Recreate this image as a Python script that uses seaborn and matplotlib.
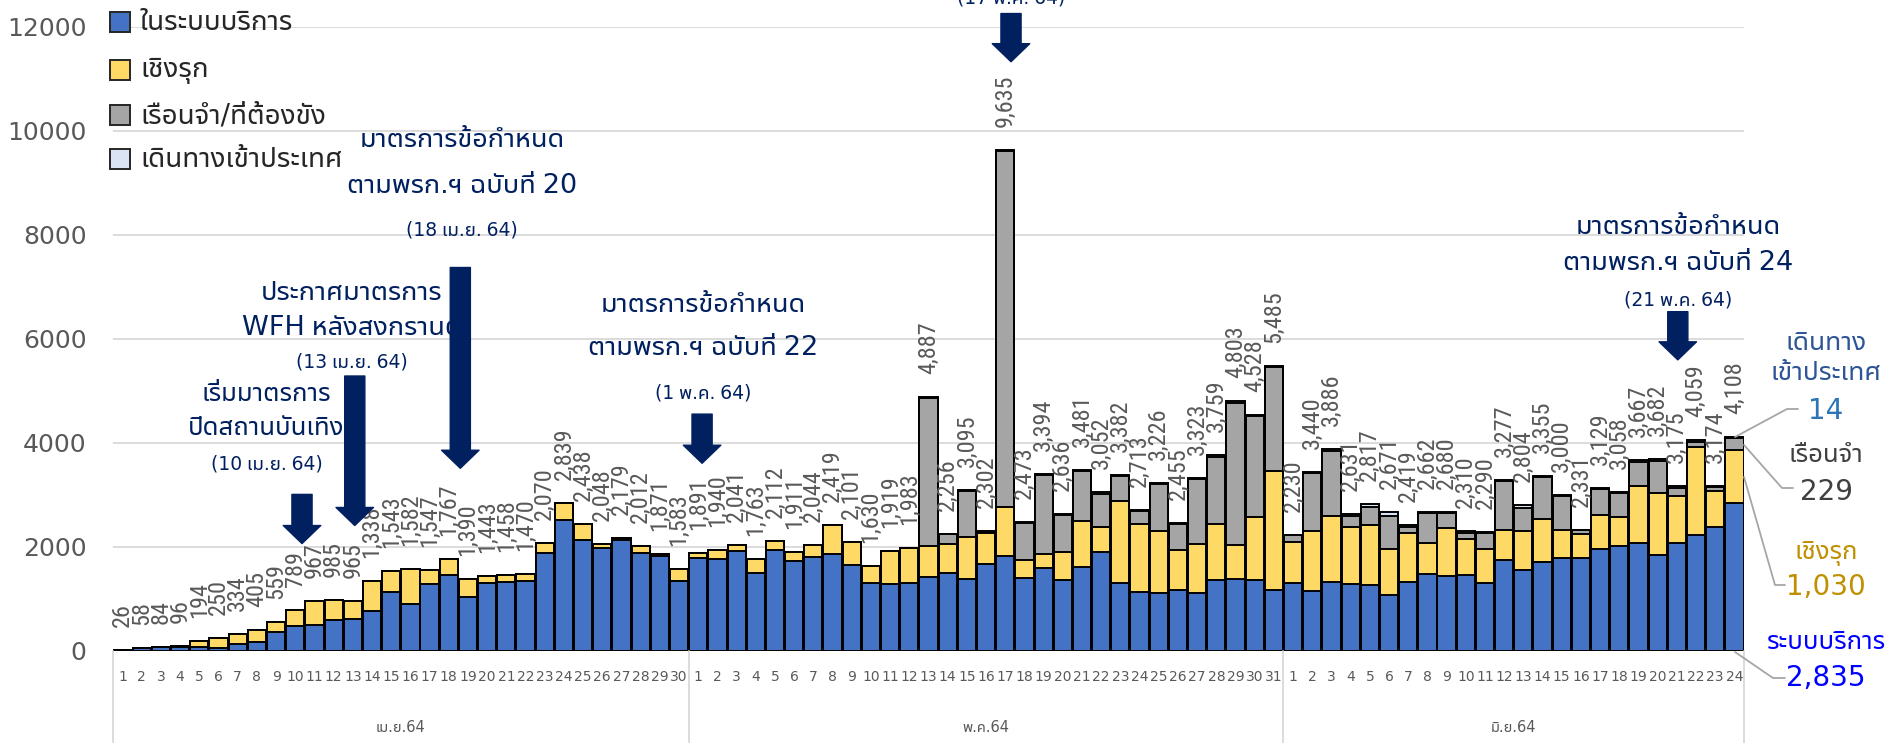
import numpy as np
import pandas as pd
import matplotlib
matplotlib.use('Agg')
import matplotlib.pyplot as plt
import seaborn as sns
from matplotlib import font_manager as fm
from matplotlib.ft2font import FT2Font
from matplotlib.patches import Rectangle
from matplotlib.lines import Line2D

# ---- data: new cases per day, 1 Apr - 24 Jun 2021 ----
days_apr = list(range(1, 31))
days_may = list(range(1, 32))
days_jun = list(range(1, 25))
months = ['เม.ย.64', 'พ.ค.64', 'มิ.ย.64']

service = [20, 50, 70, 80, 70, 65, 143, 169, 364, 481, 500, 591, 624, 760, 1137,
           897, 1293, 1456, 1033, 1305, 1325, 1344, 1878, 2508, 2135, 1974, 2129, 1878, 1820, 1337,
           1781, 1762, 1923, 1492, 1935, 1730, 1800, 1865, 1653, 1303, 1297, 1310, 1419, 1502, 1380,
           1669, 1817, 1400, 1599, 1361, 1618, 1907, 1310, 1130, 1124, 1181, 1111, 1361, 1393, 1367, 1181,
           1310, 1149, 1335, 1290, 1265, 1072, 1329, 1477, 1432, 1451, 1310, 1746, 1554, 1701, 1791,
           1791, 1964, 2022, 2074, 1849, 2067, 2234, 2375, 2835]
active = [6, 8, 14, 16, 124, 185, 191, 236, 195, 308, 467, 394, 341, 578, 406,
          685, 254, 311, 357, 138, 133, 126, 192, 331, 303, 74, 50, 134, 51, 246,
          110, 178, 118, 271, 177, 181, 244, 554, 448, 327, 622, 673, 591, 552, 815,
          600, 944, 347, 263, 533, 873, 482, 1579, 1303, 1175, 758, 950, 1072, 642, 1207, 2273,
          790, 1162, 1252, 1085, 1162, 886, 937, 597, 937, 693, 642, 578, 758, 835, 539,
          456, 655, 546, 1104, 1194, 912, 1695, 706, 1030]
prison = [0] * 30 + \
         [0, 0, 0, 0, 0, 0, 0, 0, 0, 0, 0, 0, 2857, 187, 880,
          18, 6854, 706, 1512, 712, 970, 633, 473, 250, 907, 496, 1242, 1296, 2738, 1934, 2011,
          120, 1109, 1250, 226, 340, 643, 113, 571, 289, 126, 315, 937, 442, 802, 655,
          70, 488, 462, 450, 599, 150, 80, 64, 229]
imported = [0] * 30 + \
           [0, 0, 0, 0, 0, 0, 0, 0, 0, 0, 0, 0, 20, 15, 20,
            15, 20, 20, 20, 30, 20, 30, 20, 30, 20, 20, 20, 30, 30, 20, 20,
            10, 20, 49, 30, 50, 70, 40, 17, 22, 40, 23, 16, 50, 17, 15,
            14, 22, 28, 39, 40, 46, 50, 29, 14]

legend_names = ['ในระบบบริการ', 'เชิงรุก', 'เรือนจำ/ที่ต้องขัง', 'เดินทางเข้าประเทศ']
colors = ['#4472C4', '#FFD966', '#A5A5A5', '#DAE3F3']
navy = '#002060'
grey_txt = '#595959'


# ---- fonts: need one with Thai glyphs ----
def pick_font(char, prefer):
    names = {}
    for f in fm.fontManager.ttflist:
        names.setdefault(f.name, f.fname)
    for p in prefer:
        if p in names:
            return p
    if char is None:
        return None
    for name, path in sorted(names.items()):
        try:
            if ord(char) in FT2Font(path).get_charmap():
                return name
        except Exception:
            pass
    return None


thai_font = pick_font('ก', ['Tahoma', 'Leelawadee UI', 'Noto Sans Thai UI', 'Noto Sans Thai',
                             'Sarabun', 'Loma', 'Garuda', 'Waree', 'Umpush', 'Kinnari', 'Norasi'])
narrow = pick_font(None, ['Liberation Sans Narrow', 'Roboto Condensed', 'DejaVu Sans Condensed'])
narrow_size = {'Liberation Sans Narrow': 18, 'Roboto Condensed': 17.5, 'DejaVu Sans Condensed': 15}.get(narrow, 13)

sns.set_style('white')
fams = ([thai_font] if thai_font else []) + ['DejaVu Sans']
plt.rcParams['font.family'] = fams
num_fams = ([narrow] if narrow else []) + fams

# ---- frame ----
W, H = 1891, 743
fig = plt.figure(figsize=(W / 100, H / 100), dpi=100)
ax = fig.add_axes([113 / W, (H - 651) / H, 1631 / W, 624.5 / H])

df = pd.DataFrame({'i': np.arange(len(service)), 'service': service, 'active': active,
                   'prison': prison, 'imported': imported})
df['lvl1'] = df['service']
df['lvl2'] = df['lvl1'] + df['active']
df['lvl3'] = df['lvl2'] + df['prison']
df['total'] = df['lvl3'] + df['imported']

# stacked bars: draw cumulative heights from the top layer down
for col, c in [('total', colors[3]), ('lvl3', colors[2]), ('lvl2', colors[1]), ('lvl1', colors[0])]:
    sns.barplot(data=df, x='i', y=col, color=c, saturation=1, width=0.95,
                edgecolor='black', linewidth=1.4, errorbar=None, ax=ax)

ax.set_xlim(-0.5, len(df) - 0.5)
ax.set_ylim(0, 12000)
ax.set_xlabel('')
ax.set_ylabel('')
ax.set_axisbelow(True)
ax.yaxis.grid(True, color='#D9D9D9', lw=1.3)
ax.set_yticks(range(0, 12001, 2000))
ax.tick_params(axis='y', length=0, pad=19, labelsize=18, labelcolor=grey_txt)
for s in ax.spines.values():
    s.set_visible(False)

day_labels = [str(d) for d in days_apr + days_may + days_jun]
ax.set_xticks(range(len(day_labels)))
ax.set_xticklabels(day_labels, fontsize=10, color=grey_txt)
ax.tick_params(axis='x', length=0, pad=14)

# month level of the category axis
starts = [0, len(days_apr), len(days_apr) + len(days_may), len(day_labels)]
trans = ax.get_xaxis_transform()
for b in starts:
    ax.plot([b - 0.5, b - 0.5], [0, -0.2], transform=trans, color='#D9D9D9', lw=1.3, clip_on=False)
for k, m in enumerate(months):
    ax.text((starts[k] + starts[k + 1] - 1) / 2, -0.123, m, transform=trans, ha='center', va='center',
            fontsize=10.5, color=grey_txt)

# total labels above each bar
for i, t in enumerate(df['total']):
    ax.annotate(f'{t:,}', (i, t), xytext=(0, 23), textcoords='offset pixels', rotation=90,
                ha='center', va='bottom', fontsize=narrow_size, color=grey_txt, family=num_fams)


# event annotations
def block_arrow(x, y0, y1):
    ax.annotate('', xy=(x, y1), xytext=(x, y0), annotation_clip=False,
                arrowprops=dict(arrowstyle='simple,head_length=1.3,head_width=2.7,tail_width=1.45',
                                color=navy, shrinkA=0, shrinkB=0, mutation_scale=10))


def note(x, y, s, size=19.5):
    ax.text(x, y, s, ha='center', va='center', fontsize=size, color=navy, clip_on=False)


block_arrow(9.35, 3009, 2064)
note(7.5, 4938, 'เริ่มมาตรการ', 18.5)
note(7.5, 4282, 'ปิดสถานบันเทิง', 18.5)
note(7.5, 3588, '(10 เม.ย. 64)', 13.5)

block_arrow(12.1, 5284, 2411)
note(11.95, 6887, 'ประกาศมาตรการ')
note(11.95, 6211, 'WFH หลังสงกรานต์')
note(11.95, 5556, '(13 เม.ย. 64)', 13.5)

block_arrow(17.6, 7369, 3511)
note(17.7, 9819, 'มาตรการข้อกำหนด')
note(17.7, 8931, 'ตามพรก.ฯ ฉบับที่ 20')
note(17.7, 8083, '(18 เม.ย. 64)', 13.5)

block_arrow(30.2, 4552, 3607)
note(30.24, 6655, 'มาตรการข้อกำหนด')
note(30.24, 5826, 'ตามพรก.ฯ ฉบับที่ 22')
note(30.24, 4957, '(1 พ.ค. 64)', 13.5)

block_arrow(46.3, 12249, 11323)
note(46.3, 12540, '(17 พ.ค. 64)', 13.5)

block_arrow(81.05, 6520, 5594)
note(81.05, 8140, 'มาตรการข้อกำหนด')
note(81.05, 7465, 'ตามพรก.ฯ ฉบับที่ 24')
note(81.05, 6752, '(21 พ.ค. 64)', 13.5)


# ---- figure-level pieces (pixel positions of the slide) ----
def fx(px):
    return px / W


def fy(py):
    return 1 - py / H


# legend
for k, (name, c) in enumerate(zip(legend_names, colors)):
    yc = [22, 70, 115, 159][k]
    fig.patches.append(Rectangle((fx(110), fy(yc + 10)), 20 / W, 20 / H, transform=fig.transFigure,
                                 facecolor=c, edgecolor='#262626', lw=1.4))
    fig.text(fx(140), fy(yc), name, ha='left', va='center', fontsize=20, color='#262626')

# last-day breakdown on the right
right = [('เดินทาง', 343, '#2F5597', 19), ('เข้าประเทศ', 373, '#2F5597', 19), ('14', 411, '#2E75B6', 20),
         ('เรือนจำ', 455, '#404040', 18.5), ('229', 492, '#404040', 20),
         ('เชิงรุก', 553, '#BF9000', 18.5), ('1,030', 587, '#BF9000', 20),
         ('ระบบบริการ', 642, '#0000FF', 18.5), ('2,835', 678, '#0000FF', 20)]
for s, py, c, size in right:
    fig.text(fx(1826), fy(py), s, ha='center', va='center', fontsize=size, color=c)

leaders = [[(1735, 437), (1787, 409), (1798, 409)],
           [(1744, 445), (1782, 488), (1793, 488)],
           [(1744, 477), (1775, 585), (1785, 585)],
           [(1735, 652), (1773, 678), (1785, 678)]]
for pts in leaders:
    fig.add_artist(Line2D([fx(p[0]) for p in pts], [fy(p[1]) for p in pts],
                          transform=fig.transFigure, color='#A6A6A6', lw=1.3))

fig.savefig('out.png', dpi=100)
